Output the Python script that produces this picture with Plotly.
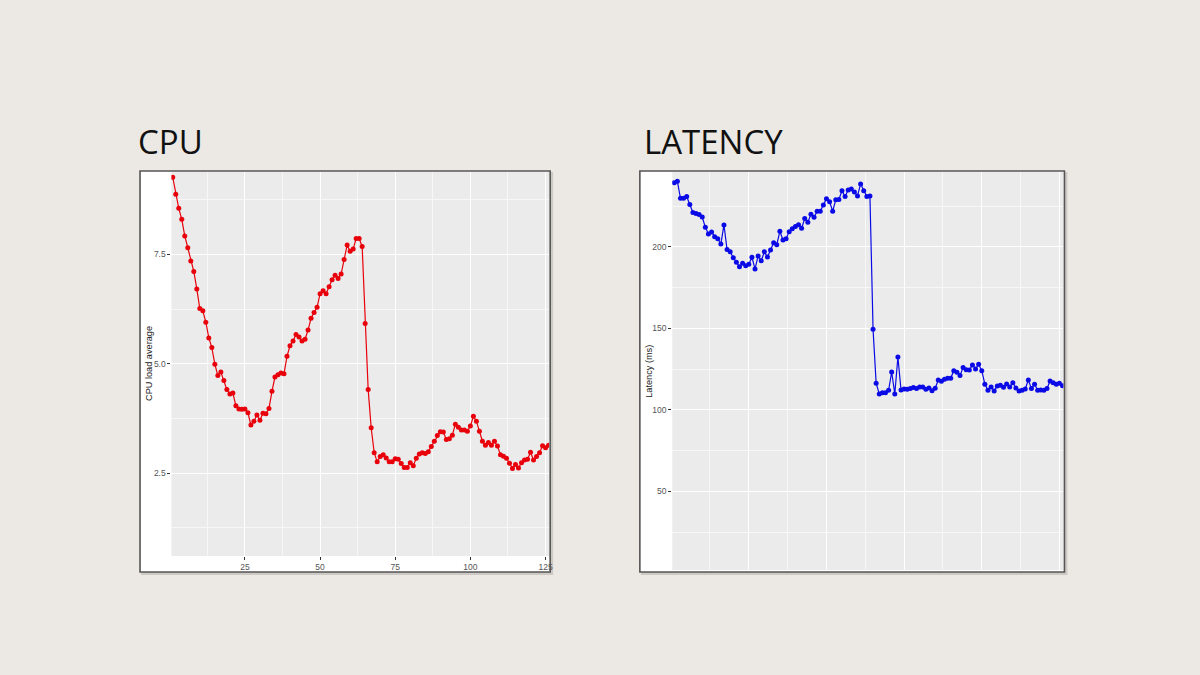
import plotly.graph_objects as go

W, H = 1200, 675

cpu_load = [9.26, 8.87, 8.55, 8.30, 7.92, 7.65, 7.35, 7.11, 6.71, 6.26,
            6.21, 5.95, 5.59, 5.37, 4.99, 4.73, 4.81, 4.62, 4.41, 4.31,
            4.33, 4.04, 3.97, 3.96, 3.97, 3.88, 3.60, 3.69, 3.83, 3.71,
            3.87, 3.86, 3.98, 4.37, 4.70, 4.75, 4.79, 4.77, 5.17, 5.41,
            5.52, 5.67, 5.61, 5.52, 5.56, 5.77, 6.04, 6.17, 6.29, 6.60,
            6.67, 6.60, 6.76, 6.92, 7.02, 6.95, 7.05, 7.38, 7.71, 7.57,
            7.62, 7.86, 7.86, 7.68, 5.92, 4.41, 3.54, 2.97, 2.76, 2.88,
            2.92, 2.85, 2.76, 2.76, 2.83, 2.82, 2.72, 2.63, 2.63, 2.74,
            2.67, 2.84, 2.94, 2.97, 2.95, 2.99, 3.11, 3.23, 3.36, 3.45,
            3.44, 3.27, 3.29, 3.37, 3.62, 3.55, 3.49, 3.49, 3.46, 3.58,
            3.80, 3.69, 3.46, 3.23, 3.14, 3.20, 3.14, 3.23, 3.12, 2.92,
            2.89, 2.84, 2.73, 2.61, 2.70, 2.62, 2.74, 2.80, 2.82, 2.98,
            2.80, 2.88, 2.97, 3.13, 3.08, 3.14]

latency_ms = [239.4, 240.3, 229.9, 229.9, 230.9, 226.0, 221.1, 220.5, 219.9, 218.4,
              212.1, 208.0, 209.2, 206.3, 205.1, 201.8, 213.5, 198.4, 197.0, 193.4,
              190.6, 187.9, 190.0, 188.5, 189.4, 193.7, 186.5, 194.5, 191.5, 197.0,
              193.8, 198.2, 202.6, 201.4, 209.6, 204.3, 205.1, 209.4, 211.2, 212.5,
              213.7, 211.5, 217.4, 215.1, 220.1, 218.2, 221.9, 221.9, 225.8, 229.6,
              227.8, 221.9, 229.0, 229.2, 234.5, 230.9, 235.0, 235.6, 233.7, 231.3,
              238.7, 234.5, 230.9, 231.3, 149.5, 116.4, 109.8, 110.6, 110.6, 112.1,
              123.3, 109.8, 132.5, 112.3, 112.9, 112.7, 113.1, 113.7, 113.1, 114.1,
              114.1, 112.7, 113.5, 111.8, 113.3, 118.4, 117.6, 118.8, 119.4, 119.4,
              124.1, 123.1, 121.2, 126.0, 124.6, 124.5, 127.6, 125.2, 128.0, 124.1,
              115.8, 112.1, 114.1, 111.7, 114.7, 115.2, 114.0, 116.0, 114.1, 116.7,
              113.5, 111.7, 112.1, 112.9, 118.4, 113.1, 115.8, 112.1, 112.3, 112.1,
              113.1, 117.8, 116.7, 115.8, 116.4, 114.9]

sample_idx = list(range(1, len(cpu_load) + 1))

titles = ["CPU", "LATENCY"]
y_titles = ["CPU load average", "Latency (ms)"]

BG = "#ece9e4"
PANEL_GRAY = "#ebebeb"


def px(x):
    return x / W


def py(y):
    return 1 - y / H


# pixel boxes
cpu_frame = (140.5, 171, 552, 572)
lat_frame = (642, 171, 1068, 572)
cpu_plot = (172, 172, 551, 556)
lat_plot = (674.5, 172, 1067, 570)

fig = go.Figure()
fig.add_trace(go.Scatter(x=sample_idx, y=cpu_load, mode="lines+markers",
                         line=dict(color="#e8000b", width=1.2),
                         marker=dict(color="#e8000b", size=5),
                         xaxis="x", yaxis="y", showlegend=False, cliponaxis=True))
fig.add_trace(go.Scatter(x=sample_idx, y=latency_ms, mode="lines+markers",
                         line=dict(color="#0a0ae6", width=1.2),
                         marker=dict(color="#0a0ae6", size=5),
                         xaxis="x2", yaxis="y2", showlegend=False, cliponaxis=True))

tickfont = dict(family="Liberation Sans, Arial, sans-serif", size=8.5, color="#555555")
common = dict(showline=False, zeroline=False, gridcolor="#ffffff", gridwidth=1.1,
              ticks="outside", ticklen=3, tickcolor="#333333", tickwidth=1,
              tickfont=tickfont)


def minor(d):
    return dict(dtick=d, showgrid=True, gridcolor="#f7f7f7", gridwidth=0.6)


fig.update_layout(
    width=W, height=H,
    margin=dict(l=0, r=0, t=0, b=0),
    paper_bgcolor=BG,
    plot_bgcolor="rgba(0,0,0,0)",
    xaxis=dict(domain=[px(cpu_plot[0]), px(cpu_plot[2])], range=[0.56, 126.2],
               anchor="y", tick0=0, dtick=25, minor=minor(12.5), **common),
    yaxis=dict(domain=[py(cpu_plot[3]), py(cpu_plot[1])], range=[0.61, 9.38],
               anchor="x", tick0=0, dtick=2.5, tickformat=".1f",
               minor=minor(1.25), **common),
    xaxis2=dict(domain=[px(lat_plot[0]), px(lat_plot[2])], range=[0.35, 126.3],
                anchor="y2", tick0=0, dtick=25, showticklabels=False, ticks="",
                showline=False, zeroline=False, gridcolor="#ffffff", gridwidth=1.1,
                minor=minor(12.5)),
    yaxis2=dict(domain=[py(lat_plot[3]), py(lat_plot[1])], range=[1.8, 246.0],
                anchor="x2", tick0=0, dtick=50, minor=minor(25), **common),
)

shapes = []
for fr, pl in [(cpu_frame, cpu_plot), (lat_frame, lat_plot)]:
    shapes.append(dict(type="rect", xref="paper", yref="paper", layer="below",
                       x0=px(fr[0] + 1), x1=px(fr[2] + 3), y0=py(fr[3] + 3), y1=py(fr[1] + 1),
                       fillcolor="rgba(0,0,0,0.13)", line=dict(width=0)))
    shapes.append(dict(type="rect", xref="paper", yref="paper", layer="below",
                       x0=px(fr[0]), x1=px(fr[2]), y0=py(fr[3]), y1=py(fr[1]),
                       fillcolor="#ffffff", line=dict(width=0)))
    shapes.append(dict(type="rect", xref="paper", yref="paper", layer="below",
                       x0=px(pl[0]), x1=px(pl[2]), y0=py(pl[3]), y1=py(pl[1]),
                       fillcolor=PANEL_GRAY, line=dict(width=0)))
    shapes.append(dict(type="rect", xref="paper", yref="paper", layer="above",
                       x0=px(fr[0]), x1=px(fr[2]), y0=py(fr[3]), y1=py(fr[1]),
                       fillcolor="rgba(0,0,0,0)", line=dict(color="#555555", width=1.6)))
fig.update_layout(shapes=shapes)

title_font = dict(family="Open Sans, sans-serif", size=33, color="#111111")
axis_title_font = dict(family="Liberation Sans, Arial, sans-serif", size=9.2, color="#1a1a1a")
fig.update_layout(annotations=[
    dict(text=titles[0], x=px(136), y=py(141), xref="paper", yref="paper",
         xanchor="left", yanchor="middle", showarrow=False, font=title_font),
    dict(text=titles[1], x=px(644), y=py(141), xref="paper", yref="paper",
         xanchor="left", yanchor="middle", showarrow=False, font=title_font),
    dict(text=y_titles[0], x=px(149.5), y=py(364), xref="paper", yref="paper",
         xanchor="center", yanchor="middle", textangle=-90, showarrow=False,
         font=axis_title_font),
    dict(text=y_titles[1], x=px(651), y=py(371), xref="paper", yref="paper",
         xanchor="center", yanchor="middle", textangle=-90, showarrow=False,
         font=axis_title_font),
])

fig.write_html(
    "out.html",
    config={"displayModeBar": False},
    post_script="document.body.style.margin='0';document.body.style.padding='0';"
                "document.body.style.background='" + BG + "';"
                "document.documentElement.style.background='" + BG + "';"
                "document.body.style.overflow='hidden';",
)
